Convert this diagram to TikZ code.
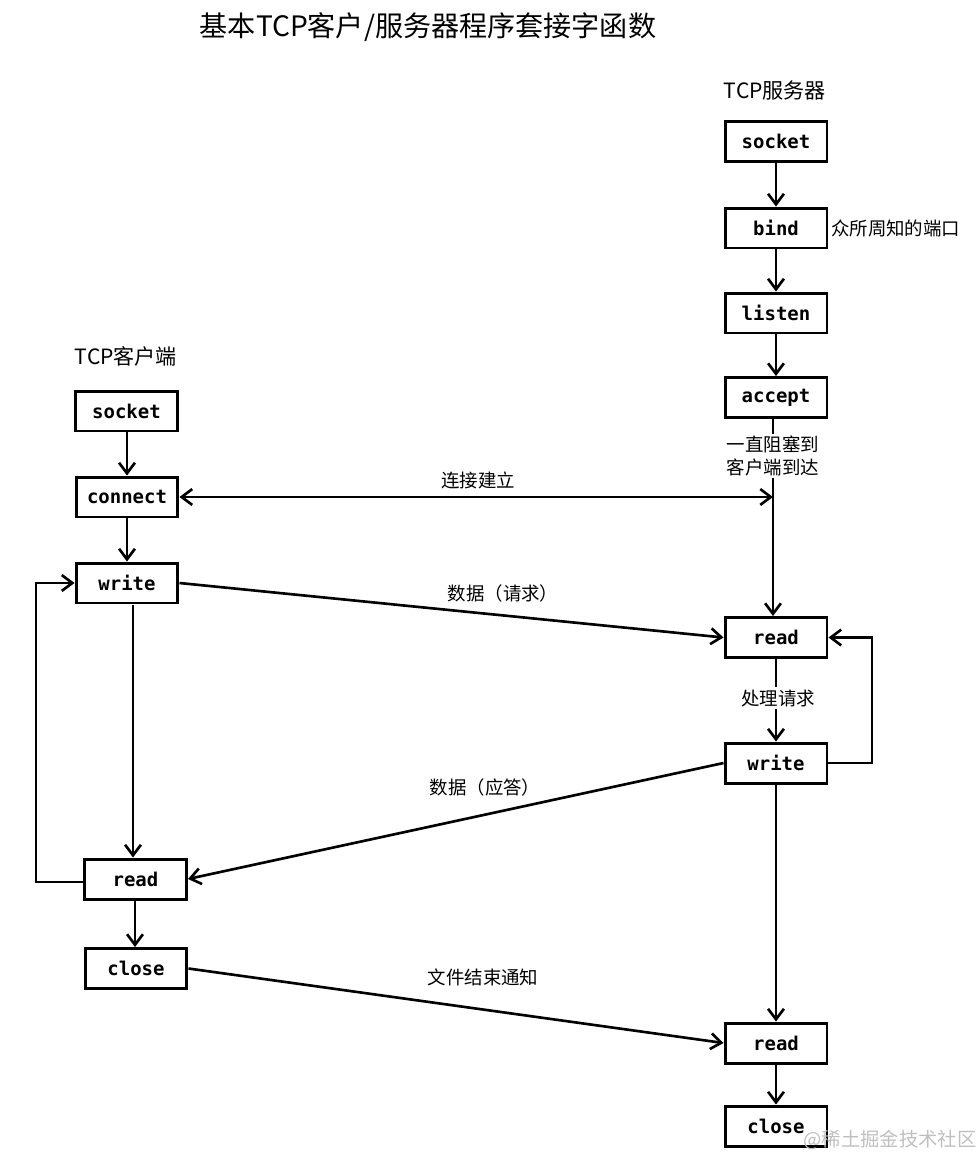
\documentclass[tikz,border=0pt]{standalone}
\usepackage{fontspec}
\setmainfont{Noto Sans CJK SC}
\newfontfamily\boxfont{DejaVu Sans Mono}
\usetikzlibrary{arrows.meta}
\begin{document}
\begin{tikzpicture}[x=0.02cm,y=-0.02cm,
  fn/.style={draw,line width=1.7pt,minimum width=2.04cm,minimum height=0.8cm,inner sep=0pt,font=\boxfont\bfseries\fontsize{10.8}{12}\selectfont},
  lbl/.style={font=\fontsize{10.5}{13}\selectfont,inner sep=1pt},
  hdr/.style={font=\fontsize{12}{14}\selectfont},
  ln/.style={line width=1.5pt},
  conn/.style={ln,-{Straight Barb[length=6pt,width=9pt,line width=1.5pt]}}]
\useasboundingbox (0,0) rectangle (976,1157);
\node[font=\fontsize{16}{18}\selectfont] (title) at (428,27) {基本TCP客户/服务器程序套接字函数};
% server
\node[hdr] (shdr) at (775,90) {TCP服务器};
\node[fn] (ssock) at (776,141.5) {socket};
\node[fn] (sbind) at (776,228) {bind};
\node[lbl,anchor=west] (port) at (829,228) {众所周知的端口};
\node[fn] (slist) at (776,313) {listen};
\node[fn] (sacc) at (776,397.5) {accept};
\node[lbl,align=left] (block) at (773,456) {一直阻塞到\\客户端到达};
\node[fn] (sread) at (776,637.5) {read};
\node[lbl] (proc) at (778,698) {处理请求};
\node[fn] (swrite) at (776,763) {write};
\node[fn] (sread2) at (776,1043) {read};
\node[fn] (sclose) at (776,1126) {close};
% client
\node[hdr] (chdr) at (126,356) {TCP客户端};
\node[fn] (csock) at (126.5,411) {socket};
\node[fn] (cconn) at (127,497) {connect};
\node[fn] (cwrite) at (127,583) {write};
\node[fn] (cread) at (135.5,879) {read};
\node[fn] (cclose) at (136,968.5) {close};
% server vertical flow
\draw[conn] (ssock) -- (sbind);
\draw[conn] (sbind) -- (slist);
\draw[conn] (slist) -- (sacc);
\draw[ln] (sacc.south -| 773,0) -- (block.north -| 773,0);
\coordinate (meet) at (773,497);
\draw[conn] (block.south -| 773,0) -- (sread.north -| 773,0);
\draw[ln] (sread.south) -- (proc.north -| sread.south);
\draw[conn] (proc.south -| swrite.north) -- (swrite.north);
\coordinate (sloop) at (872,763);
\draw[conn] (swrite.east) -- (sloop) -- (sloop |- sread.east) -- (sread.east);
\draw[conn] (swrite.south) -- (sread2.north);
\draw[conn] (sread2.south) -- (sclose.north -| sread2.south);
% client flow
\draw[conn] (csock.south -| cconn.north) -- (cconn.north);
\draw[conn] (cconn) -- (cwrite);
\draw[conn] (cwrite.south -| 133,0) -- (cread.north -| 133,0);
\draw[conn] (cread.south -| 135,0) -- (cclose.north -| 135,0);
\coordinate (cloop) at (36,882);
\draw[conn] (cread.west |- cloop) -- (cloop) -- (cloop |- cwrite.west) -- (cwrite.west);
% cross connectors
\draw[ln,{Straight Barb[length=6pt,width=9pt,line width=1.5pt]}-{Straight Barb[length=6pt,width=9pt,line width=1.5pt]}] (cconn.east) -- (meet);
\node[lbl] (est) at (478,480) {连接建立};
\draw[conn] (cwrite.east) -- (sread.west);
\node[lbl] (req) at (503,593) {数据（请求）};
\draw[conn] (swrite.west) -- (cread.east);
\node[lbl] (resp) at (485,787) {数据（应答）};
\draw[conn] (cclose.east) -- (sread2.west);
\node[lbl] (eof) at (483,977) {文件结束通知};
% watermark
\node[font=\fontsize{11}{13}\selectfont,text=black!25] (wm) at (890,1140) {@稀土掘金技术社区};
\end{tikzpicture}
\end{document}
